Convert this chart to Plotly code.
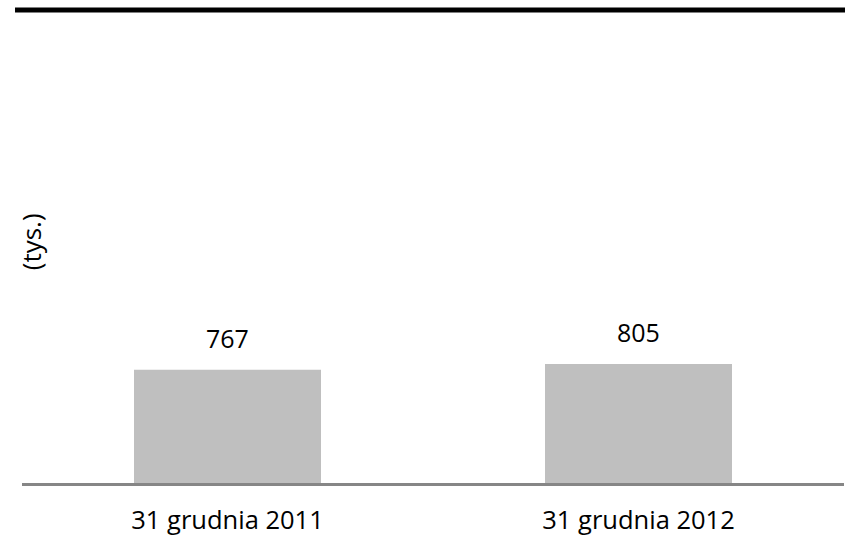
import plotly.graph_objects as go

categories = ["31 grudnia 2011", "31 grudnia 2012"]
values = [767, 805]
value_labels = ["767", "805"]
y_title = "(tys.)"

FONT = "Open Sans"

fig = go.Figure()
fig.add_trace(go.Bar(
    x=categories, y=values,
    marker=dict(color="#BFBFBF", line=dict(width=0)),
    hoverinfo="skip",
))

for c, v, t in zip(categories, values, value_labels):
    fig.add_annotation(x=c, y=v, text=t, showarrow=False, xref="x", yref="y",
                       yanchor="bottom", yshift=13,
                       font=dict(family=FONT, size=25, color="#000000"))

fig.add_annotation(x=0.011, y=0.509, xref="paper", yref="paper", text=y_title,
                   textangle=-90, showarrow=False, xanchor="center", yanchor="middle",
                   font=dict(family=FONT, size=26, color="#000000"))

fig.add_shape(type="line", xref="paper", yref="paper", x0=-0.0085, x1=1.01, y0=1, y1=1,
              line=dict(color="#000000", width=5))

fig.update_layout(
    width=845, height=537,
    margin=dict(l=22, r=1, t=10, b=52),
    paper_bgcolor="white", plot_bgcolor="white",
    bargap=0.545,
    showlegend=False,
    xaxis=dict(showline=True, linecolor="#868686", linewidth=3, ticks="",
               ticklabelstandoff=12,
               tickfont=dict(family=FONT, size=25.5, color="#000000"),
               showgrid=False, zeroline=False, fixedrange=True),
    yaxis=dict(range=[0, 3200], visible=False, showgrid=False, zeroline=False,
               fixedrange=True),
)

fig.write_html(
    "out.html",
    config={"displayModeBar": False, "staticPlot": True},
    post_script="document.body.style.margin='0';document.body.style.overflow='hidden';",
)
